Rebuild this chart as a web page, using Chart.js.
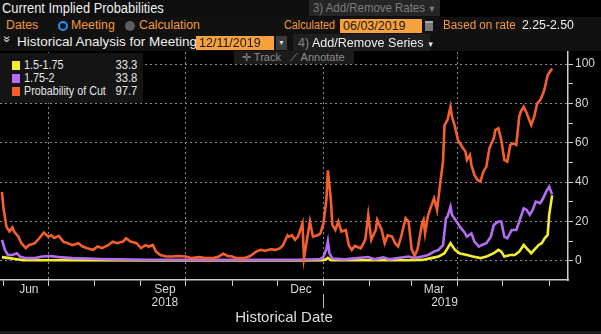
<!DOCTYPE html>
<html lang="en">
<head>
<meta charset="UTF-8">
<title>Current Implied Probabilities</title>
<script src="https://cdn.jsdelivr.net/npm/chart.js"></script>
<style>
    body {
        margin: 0;
        background: #000;
        font-family: "Liberation Sans", Arial, sans-serif;
        width: 601px;
        height: 334px;
        overflow: hidden;
        position: relative;
    }
    #wrap { position: absolute; left: 0; top: 0; width: 601px; height: 334px; }
    .hdr { position: absolute; left: 0; width: 601px; background: #111; }
    .t { position: absolute; white-space: nowrap; }
    .org { color: #f49a3a; font-size: 12.3px; }
    .wht { color: #eee; }
    .field { position: absolute; background: #f7a23c; color: #1a1a1a; font-size: 12.5px; padding-left: 3px; box-sizing: border-box; }
    .btn { position: absolute; white-space: nowrap; box-sizing: border-box; }
    .cond { display: inline-block; transform: scaleX(0.88); transform-origin: left center; }
    .legend { position: absolute; left: 0; top: 53px; width: 143px; height: 50px; background: #141414; font-size: 12.5px; color: #e6e6e6; }
    .legend .row { position: absolute; left: 0; width: 143px; height: 13px; }
    .legend .sw { position: absolute; left: 12px; top: 2px; width: 8px; height: 9px; }
    .legend .nm { position: absolute; left: 24px; top: -1px; transform: scaleX(0.86); transform-origin: left center; }
    .legend .vl { position: absolute; right: 6px; top: -1px; transform: scaleX(0.9); transform-origin: right center; }
</style>
</head>
<body>
<div id="wrap"><canvas id="chart" width="601" height="334"></canvas></div>

<div class="hdr" style="top:0;height:17px;background:#0e0e0e;width:440px"></div>
<div class="hdr" style="top:17px;height:34px"></div>
<div class="t wht" style="left:2px;top:0;font-size:14px"><span class="cond" style="transform:scaleX(0.92)">Current Implied Probabilities</span></div>
<div class="btn" style="left:309px;top:0;width:131px;height:16px;background:#262626;color:#7d7d7d;font-size:13px;padding:0 0 0 4px;line-height:16px"><span class="cond">3) Add/Remove Rates <span style="font-size:9px">▼</span></span></div>

<div class="t org" style="left:6px;top:18px">Dates</div>
<div class="t" style="left:58px;top:21px;width:6px;height:6px;border:2.5px solid #2f8fe8;border-radius:50%;background:#0a1420"></div>
<div class="t org" style="left:71px;top:18px">Meeting</div>
<div class="t" style="left:125px;top:21px;width:10px;height:10px;border-radius:50%;background:#5d5d5d"></div>
<div class="t org" style="left:139px;top:18px">Calculation</div>
<div class="t org" style="left:284px;top:18px;font-size:12px"><span class="cond" style="transform:scaleX(0.9)">Calculated</span></div>
<div class="field" style="left:340px;top:19px;width:82px;height:14px;line-height:14px">06/03/2019</div>
<div class="t" style="left:425px;top:21px;width:8px;height:10px;background:#7a7a7a;border-top:2px solid #aaa;box-sizing:border-box"></div>
<div class="t org" style="left:443px;top:18px"><span class="cond" style="transform:scaleX(0.95)">Based on rate</span></div>
<div class="t wht" style="left:522px;top:18px;font-size:12.3px">2.25-2.50</div>

<div class="t wht" style="left:4px;top:32px;font-size:12px;transform:rotate(90deg)">»</div>
<div class="t wht" style="left:17px;top:34px;font-size:13.5px">Historical Analysis for Meeting</div>
<div class="field" style="left:196px;top:36px;width:78px;height:14px;line-height:14px">12/11/2019</div>
<div class="btn" style="left:276px;top:36px;width:11px;height:14px;background:#3a3a3a;color:#ddd;font-size:7px;text-align:center;line-height:14px">▼</div>
<div class="btn" style="left:293px;top:34px;width:137px;height:17px;background:#1f1f1f;color:#eee;font-size:13.5px;padding:0 0 0 5px;line-height:17px"><span class="cond" style="transform:scaleX(0.93)"><span style="color:#888">4)</span> Add/Remove Series <span style="font-size:8px">▼</span></span></div>

<div class="btn" style="left:234px;top:51px;width:120px;height:13px;background:#1b1b1b;color:#8d8d8d;font-size:11px;padding-left:8px;line-height:13px">✛ Track &nbsp; ⟋ Annotate</div>

<div class="legend">
    <div class="row" style="top:6px"><div class="sw" style="background:#f3ee2e"></div><span class="nm">1.5-1.75</span><span class="vl">33.3</span></div>
    <div class="row" style="top:19px"><div class="sw" style="background:#b46cf5"></div><span class="nm">1.75-2</span><span class="vl">33.8</span></div>
    <div class="row" style="top:32px"><div class="sw" style="background:#f4602c"></div><span class="nm">Probability of Cut</span><span class="vl">97.7</span></div>
</div>
<div style="position:absolute;left:0;top:331px;width:601px;height:3px;background:#1c1c1c"></div>

<script>
    // days counted from 1 Jun 2018
    const cutDays = [-1,0,2,4,6,7,10,12,15,17,21,24,27,30,32,34,37,40,43,46,50,53,56,60,63,66,70,73,76,80,82,85,89,92,95,97,100,102,105,109,113,117,122,126,131,135,140,144,147,150,153,156,161,165,169,172,175,179,182,185,187,190,191,193,195,197,200,201,203,205,207,210,212,214,216,217,219,220,222,224,226,229,231,233,235,239,242,244,246,249,250,253,255,257,260,262,264,266,269,271,273,275,277,280,281,282,284,286,288,290,292,294,295,297,299,300,302,304,306,309,310,312,313,315,317,319,321,323,325,328,329,331,333,335,337,339,341,343,345,346,348,350,353,355,357,359,361,362,364,367];
    const cutVals = [35,27,17.4,15,17,15,12.3,9,6.5,8,9,11.5,14.4,12.3,13,11.7,12.7,9.8,9,8,9,7.3,6.4,5.6,7.3,6.5,8,9.8,9,9.8,11.5,9.8,9,6.5,8,7.3,8,4.7,3,2.2,2.2,2.5,2.2,1.4,1.9,1.4,1.4,2.2,3.6,2.5,2.2,1.4,1.4,2.5,4.7,5.6,5.2,5.9,5.6,6.5,8,13,12.3,13,10.7,12.3,19,1.4,10.7,20,12.3,13,14,19,31,46,31,18.3,15.7,20,14.9,15.7,8,5.6,7.6,6.4,10.7,23.4,10.7,15.7,20.8,15.7,9,13,12.3,9,7.3,12.3,21.7,20,6,2.5,6,19,20.8,14,23,27.6,31.8,25.9,38.6,50.4,69,71.6,78.3,73.3,68.2,61.4,58.9,55.5,51.3,53.8,48.7,43.7,41.1,40.3,45.3,47.9,57.2,62.3,66.5,67.4,61.4,51.3,50.4,58.9,59.7,58.9,73.3,75.8,78.3,75,69,73.3,80,81.7,85.1,87.6,94.4,97.7];

    const midDays = [-1,1,3,6,9,11,15,21,26,31,37,46,57,64,77,97,131,164,197,207,212,214,216,217,218,220,228,244,248,254,258,271,275,280,284,288,291,294,296,297,299,300,303,306,308,310,313,315,318,320,323,326,328,331,333,335,337,340,343,345,348,350,352,354,356,359,361,363,365,367];
    const midVals = [10.7,5.6,3,3,3.9,2.2,1.4,1.4,2.2,2.5,1.9,1.4,1.2,1,0.8,0.6,0.5,0.5,0.6,0.8,1,2,6,10,4,1.2,0.8,2,0.8,1.8,0.8,2.2,1.4,2.2,3,4.7,5.6,8,21.7,22.5,27.6,23.4,20,16.6,14.9,12.3,14,9.8,7.3,8.1,9,12.3,18.3,20,20,12.3,11.5,15.7,15.7,20,26.7,25.9,23.4,25.9,30.1,29.3,31.8,35.2,37.7,33.8];

    const lowDays = [-1,4,8,13,30,100,200,214,216,217,219,250,270,280,286,291,295,297,299,302,305,310,314,319,323,328,331,333,335,339,342,345,348,350,353,355,358,360,362,364,365,367];
    const lowVals = [1.9,1.4,1.0,0.4,0.3,0.2,0.2,0.3,1.0,1.5,0.3,0.3,0.3,0.5,1.4,2.2,3.9,6.4,9,5.6,3.9,3,2.2,1.4,2.2,3.9,5.6,4.7,2.2,3,3,4.7,8.1,6.4,3.9,5.6,8.1,9,11.5,13.2,23.4,33.3];

    // axis: month starts, quarter gridlines, labels
    const monthTicks = [0,30,61,92,122,153,183,214,245,273,304,334,365];
    const gridDays = [30,122,214,304];
    const monthLabelDays = [17,108,199,288];
    const monthLabels = ['Jun','Sep','Dec','Mar'];
    const yearLabelDays = [108,295];
    const yearLabels = ['2018','2019'];
    const yearBreakDay = 214;

    const fontFam = '"Liberation Sans", Arial, sans-serif';
    const pts = (xs, ys) => xs.map((x, i) => ({x: x, y: ys[i]}));

    const axisLabels = {
        id: 'axisLabels',
        afterDraw(chart) {
            const ctx = chart.ctx;
            const xs = chart.scales.x;
            ctx.save();
            ctx.fillStyle = '#d8d8d8';
            ctx.font = '12px ' + fontFam;
            ctx.textAlign = 'center';
            ctx.textBaseline = 'middle';
            monthLabelDays.forEach((d, i) => ctx.fillText(monthLabels[i], xs.getPixelForValue(d), 290));
            yearLabelDays.forEach((d, i) => ctx.fillText(yearLabels[i], xs.getPixelForValue(d), 303));
            const bx = Math.round(xs.getPixelForValue(yearBreakDay)) + 0.5;
            ctx.strokeStyle = '#bbb';
            ctx.lineWidth = 1;
            ctx.beginPath();
            ctx.moveTo(bx, 294);
            ctx.lineTo(bx, 308);
            ctx.stroke();
            ctx.restore();
        }
    };

    new Chart(document.getElementById('chart'), {
        type: 'line',
        data: {
            datasets: [
                { label: 'Probability of Cut', data: pts(cutDays, cutVals), borderColor: '#f4602c' },
                { label: '1.75-2', data: pts(midDays, midVals), borderColor: '#b46cf5' },
                { label: '1.5-1.75', data: pts(lowDays, lowVals), borderColor: '#f3ee2e' }
            ]
        },
        options: {
            responsive: false,
            animation: false,
            layout: { padding: { top: 52, left: 0, right: 0, bottom: 0 } },
            elements: {
                point: { radius: 0 },
                line: { borderWidth: 2.6, tension: 0 }
            },
            plugins: {
                legend: { display: false },
                tooltip: { enabled: false }
            },
            scales: {
                x: {
                    type: 'linear',
                    min: -2.3,
                    max: 377.6,
                    afterBuildTicks: s => { s.ticks = monthTicks.map(v => ({value: v})); },
                    afterFit: s => { s.height = 54; },
                    ticks: { callback: () => '', font: { size: 1 } },
                    grid: {
                        color: c => gridDays.includes(c.tick.value) ? '#8a8a8a' : 'transparent',
                        tickColor: '#cfcfcf',
                        tickLength: 6,
                        lineWidth: 1
                    },
                    border: { display: true, color: '#d0d0d0', width: 1.5, dash: [2, 3] },
                    title: {
                        display: true,
                        text: 'Historical Date',
                        color: '#dedede',
                        font: { size: 15, family: fontFam },
                        padding: { top: 0, bottom: 7 }
                    }
                },
                y: {
                    position: 'right',
                    min: -9.7,
                    max: 106.1,
                    afterFit: s => { s.width = 33; },
                    ticks: {
                        stepSize: 10,
                        includeBounds: false,
                        color: '#d8d8d8',
                        font: { size: 12, family: fontFam },
                        padding: 2,
                        callback: v => (v >= 0 && v % 20 === 0) ? v : ''
                    },
                    grid: {
                        color: c => (c.tick.value >= 0 && c.tick.value % 20 === 0) ? '#8a8a8a' : 'transparent',
                        tickColor: '#cfcfcf',
                        tickLength: 5,
                        lineWidth: 1
                    },
                    border: { display: true, color: '#d0d0d0', width: 1.5, dash: [2, 3] }
                }
            }
        },
        plugins: [axisLabels]
    });
</script>
</body>
</html>
